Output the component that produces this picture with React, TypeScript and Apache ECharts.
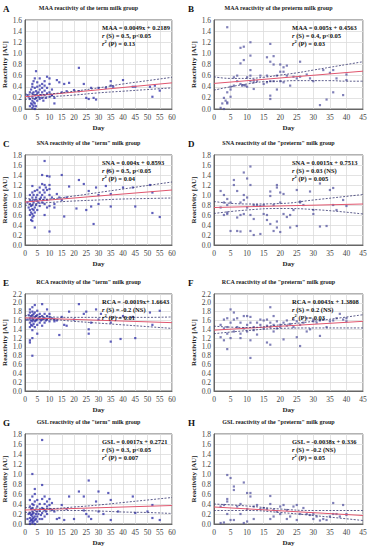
import React, { useEffect, useRef } from "react";
import * as echarts from "echarts";

// ---------- DATA ----------
const panelLetters = ["A", "B", "C", "D", "E", "F", "G", "H"];
const panelTitles = [
  "MAA reactivity of the term milk group",
  "MAA reactivity of the preterm milk group",
  "SNA reactivity of the \"term\" milk group",
  "SNA reactivity of the \"preterm\" milk group",
  "RCA reactivity of the \"term\" milk group",
  "RCA reactivity of the \"preterm\" milk group",
  "GSL reactivity of the \"term\" milk group",
  "GSL reactivity of the \"preterm\" milk group",
];
const equations = [
  "MAA = 0.0049x + 0.2189",
  "MAA = 0.005x + 0.4563",
  "SNA = 0.004x + 0.8593",
  "SNA = 0.0015x + 0.7513",
  "RCA = -0.0019x+ 1.6643",
  "RCA = 0.0043x + 1.3808",
  "GSL = 0.0017x + 0.2721",
  "GSL = -0.0038x + 0.336",
];
const spearman = ["0.5, p<0.05", "0.4, p<0.05", "0.5, p<0.05", "0.03 (NS)", "-0.2 (NS)", "0.2 (NS)", "0.3, p<0.05", "-0.2 (NS)"];
const pearsonR2 = ["0.13", "0.03", "0.04", "0.005", "0.01", "0.03", "0.007", "0.05"];
const xMaxTerm = 60;
const xMaxPreterm = 45;
const yMaxes = [1.6, 1.6, 1.8, 1.8, 2.2, 2.2, 1.8, 1.8];

const pointsA = [
  [1,0.25],[1.5,0.22],[2,0.3],[2,0.18],[2,0.05],[2.5,0.1],[2.5,0.35],[3,0.02],[3,0.08],[3,0.15],[3,0.22],[3,0.28],[3,0.4],[3,0.45],
  [3.5,0.05],[3.5,0.12],[3.5,0.3],[3.5,0.5],[4,0.0],[4,0.1],[4,0.18],[4,0.25],[4,0.38],[4,0.55],[4.5,0.05],[4.5,0.2],[4.5,0.32],
  [5,0.15],[5,0.28],[5,0.4],[5,0.48],[5.5,0.3],[5.5,0.22],[6,0.18],[6,0.35],[6,0.42],[6,0.55],[6.5,0.25],[7,0.2],[7,0.3],[7,0.38],
  [7,0.45],[7.5,0.15],[8,0.25],[8,0.33],[8,0.42],[8,0.5],[8.5,0.2],[9,0.28],[9,0.38],[9,0.58],[10,0.22],[10,0.3],[10,0.45],[10,0.55],
  [11,0.25],[11,0.35],[4.5,0.68],[22,0.74],[35,0.5],[40,0.52],[13,0.52],[14,0.48],[16,0.45],[18,0.47],[22,0.32],[24,0.45],[25,0.2],
  [26,0.18],[27,0.38],[28,0.2],[29,0.17],[30,0.38],[33,0.38],[35,0.42],[36,0.4],[44,0.4],[45,0.4],[51,0.4],[52,0.22],[53,0.42],
  [55,0.33],[12,0.2],[15,0.3],[17,0.32],[11,0.25],[20,0.34],[12,0.1]
];
const pointsB = [
  [2,0.02],[2.5,0.1],[3,0.0],[3,0.2],[3.5,0.15],[4,0.1],[4,0.12],[4,1.47],[4,0.3],[5,0.22],[5,0.35],[5,0.4],[6,0.42],[6,0.57],[7,0.6],
  [7,0.5],[8,0.82],[8,1.1],[8,0.45],[8.5,0.42],[9,1.12],[9,0.88],[9,0.43],[9.5,0.42],[10,0.57],[10,0.4],[11,1.2],[11,0.96],[11,0.7],
  [11,0.6],[11,0.5],[12,0.52],[12,0.48],[12,0.36],[13,0.5],[14,0.6],[15,0.45],[16,0.93],[16,0.48],[16,0.6],[17,1.17],[17,0.85],[17,0.24],
  [17,0.18],[17,0.5],[18,0.95],[18,0.8],[18,0.5],[19,0.35],[19,0.6],[20,0.8],[20,0.67],[20,0.5],[21,0.75],[21,0.67],[21,0.48],[22,0.78],
  [22,0.6],[23,0.42],[24,0.58],[25,0.55],[26,0.85],[26,0.58],[28,0.62],[29,0.55],[30,0.5],[32,0.07],[33,0.7],[34,0.17],[35,0.65],
  [36,0.7],[36,0.3],[37,0.55],[39,0.25],[40,0.52],[40,0.62]
];
const pointsC = [
  [1,0.85],[1.5,0.75],[2,0.6],[2,0.7],[2,0.82],[2,0.9],[2,1.0],[2.5,0.5],[2.5,0.65],[2.5,0.78],[3,0.48],[3,0.55],[3,0.62],[3,0.72],
  [3,0.8],[3,0.88],[3,0.95],[3,1.05],[3,1.18],[3.5,0.58],[3.5,0.7],[3.5,0.85],[3.5,1.0],[4,0.65],[4,0.75],[4,0.9],[4,1.08],[4.5,0.8],
  [4.5,0.95],[5,0.7],[5,0.88],[5,1.0],[5,1.1],[5.5,0.85],[6,0.78],[6,0.92],[6,1.05],[6,1.15],[6.5,0.95],[7,0.85],[7,1.0],[7,1.22],
  [7.5,1.1],[7.5,0.9],[8,0.6],[8,0.82],[8,0.95],[8,1.05],[8,1.2],[8.5,1.15],[9,0.75],[9,0.9],[9,1.1],[10,0.78],[10,1.0],[10,1.12],
  [10,1.2],[11,0.95],[8,1.68],[10,0.27],[4,0.35],[7,1.4],[9,1.38],[10,1.37],[15,1.4],[13,1.02],[14,0.95],[16,0.57],[18,1.17],[21,0.73],
  [22,1.3],[24,1.22],[25,0.7],[26,1.08],[27,0.77],[28,0.42],[29,1.15],[30,0.82],[30,1.0],[34,1.48],[35,1.02],[35,0.77],[33,1.18],
  [40,1.15],[44,1.15],[45,0.77],[51,1.2],[52,1.05],[52,0.64],[55,0.56],[12,0.82],[12,0.75],[15,0.9],[17,0.95]
];
const pointsD = [
  [2,1.08],[2,0.75],[3,1.0],[3,0.85],[3,0.6],[4,0.62],[4,0.65],[4,0.92],[4,0.8],[5,0.28],[5,0.85],[6,1.3],[6,1.2],[7,1.08],[7,0.55],
  [7,0.28],[8,0.6],[8,0.27],[8,0.85],[9,0.9],[9,1.45],[9,1.0],[9,0.62],[10,1.33],[10,0.95],[10,0.75],[11,1.57],[11,1.2],[11,0.28],
  [11,0.6],[12,0.52],[12,0.2],[12,0.8],[13,0.8],[14,0.78],[14,0.22],[15,0.62],[15,0.8],[16,0.5],[16,0.6],[17,1.07],[17,0.98],[17,0.42],
  [18,0.28],[18,0.8],[19,1.2],[19,1.15],[19,0.47],[19,0.35],[20,1.05],[20,0.85],[20,0.26],[21,1.02],[21,0.62],[22,0.56],[23,0.6],
  [23,0.35],[24,0.7],[25,1.1],[25,0.38],[26,0.87],[26,0.85],[27,0.8],[29,1.07],[30,0.7],[30,0.62],[32,1.23],[32,0.37],[34,0.38],
  [35,1.1],[36,1.14],[36,0.8],[37,0.7],[39,0.9],[40,0.78]
];
const pointsE = [
  [1,1.62],[1.5,1.72],[2,1.45],[2,1.55],[2,1.65],[2,1.78],[2,1.85],[2.5,1.5],[2.5,1.6],[2.5,1.7],[3,1.38],[3,1.48],[3,1.58],[3,1.65],
  [3,1.72],[3,1.8],[3,1.9],[3.5,1.52],[3.5,1.62],[3.5,1.75],[4,1.45],[4,1.58],[4,1.68],[4,1.78],[4,1.95],[4.5,1.6],[4.5,1.7],[5,1.5],
  [5,1.62],[5,1.72],[5,1.82],[5.5,1.65],[6,1.55],[6,1.68],[6,1.75],[6.5,1.6],[7,1.48],[7,1.62],[7,1.7],[7,1.97],[7.5,1.65],[8,1.55],
  [8,1.65],[8,1.75],[8.5,1.6],[9,1.62],[9,1.7],[9,1.85],[10,1.58],[10,1.68],[10,1.75],[11,1.65],[12,1.62],[13,1.6],[3,0.8],[2,1.15],
  [2,1.1],[3,1.2],[5,1.3],[14,1.27],[16,1.5],[18,1.8],[22,1.97],[24,1.75],[25,1.8],[26,1.3],[26,1.4],[27,1.55],[29,1.85],[30,1.62],
  [31,1.75],[35,1.12],[35,1.55],[39,1.18],[45,1.2],[51,1.78],[52,1.5],[55,1.82],[44,1.68],[40,1.7],[20,1.62],[12,1.58],[15,1.68],[17,1.48]
];
const pointsF = [
  [2,1.5],[2,1.22],[3,1.42],[3,1.15],[3,1.62],[4,1.3],[4,1.45],[4,1.65],[4,0.95],[5,1.2],[5,1.55],[5,1.85],[6,1.35],[6,1.62],[6,1.78],
  [7,1.45],[7,1.65],[8,1.3],[8,1.2],[8,1.55],[9,1.42],[9,1.7],[10,1.5],[10,1.35],[10,1.7],[11,1.15],[11,0.75],[11,1.55],[11,1.68],
  [12,1.45],[12,1.38],[13,1.55],[13,1.28],[14,1.5],[14,1.62],[15,1.42],[15,1.6],[16,1.1],[16,1.48],[16,1.62],[17,1.05],[17,1.9],
  [17,1.45],[17,1.55],[18,1.35],[18,1.7],[18,1.5],[19,1.42],[19,1.58],[20,1.5],[20,1.45],[21,1.17],[21,1.55],[22,1.48],[22,1.6],
  [23,1.52],[24,1.45],[24,1.62],[25,1.22],[25,1.58],[26,1.02],[26,1.5],[27,1.55],[28,1.35],[28,1.65],[29,1.4],[30,1.58],[30,1.62],
  [31,1.55],[32,1.25],[32,1.6],[33,1.62],[34,1.45],[35,1.58],[36,1.6],[37,1.65],[38,1.75],[39,1.62],[40,1.58],[40,1.65]
];
const pointsG = [
  [1,0.1],[1.5,0.2],[2,0.0],[2,0.05],[2,0.12],[2,0.22],[2,0.35],[2,0.48],[2.5,0.08],[2.5,0.18],[2.5,0.3],[3,0.02],[3,0.06],[3,0.1],
  [3,0.15],[3,0.2],[3,0.25],[3,0.32],[3,0.4],[3,0.55],[3.5,0.05],[3.5,0.12],[3.5,0.22],[3.5,0.38],[4,0.0],[4,0.08],[4,0.15],[4,0.28],
  [4,0.45],[4,0.6],[4,0.7],[4.5,0.1],[4.5,0.2],[5,0.05],[5,0.15],[5,0.25],[5,0.35],[5,0.48],[5.5,0.2],[6,0.1],[6,0.28],[6,0.4],
  [6.5,0.18],[7,0.1],[7,0.22],[7,0.32],[7,0.5],[7.5,0.3],[8,0.15],[8,0.28],[8,0.4],[8,0.55],[8.5,0.25],[9,0.2],[9,0.35],[9,0.45],
  [10,0.3],[10,0.38],[10,0.5],[11,0.28],[11,0.42],[7,1.68],[3,1.0],[7,0.78],[26,0.87],[22,0.65],[30,0.65],[34,0.62],[44,0.55],
  [18,0.55],[24,0.55],[15,0.38],[35,0.48],[13,0.1],[14,0.12],[16,0.08],[20,0.1],[24,0.27],[25,0.2],[26,0.15],[27,0.1],[29,0.45],
  [30,0.25],[32,0.2],[35,0.08],[38,0.25],[45,0.22],[50,0.25],[52,0.38],[52,0.12],[55,0.08],[12,0.25],[17,0.3]
];
const pointsH = [
  [4,0.98],[5,0.92],[6,0.75],[6,0.68],[9,0.83],[10,0.62],[11,0.62],[11,0.55],[17,0.56],[36,0.42],[39,0.38],[2,0.02],[3,0.03],[4,0.45],
  [4,0.5],[4,0.2],[5,0.08],[6,0.08],[7,0.35],[8,0.4],[8,0.2],[9,0.02],[10,0.05],[10,0.3],[12,0.35],[12,0.1],[13,0.38],[14,0.3],
  [15,0.32],[16,0.3],[17,0.1],[17,0.4],[18,0.28],[18,0.15],[19,0.25],[20,0.35],[20,0.2],[21,0.38],[22,0.1],[22,0.28],[23,0.15],
  [24,0.35],[25,0.38],[25,0.08],[26,0.2],[27,0.32],[28,0.2],[29,0.18],[30,0.2],[30,0.1],[31,0.15],[32,0.07],[33,0.1],[34,0.08],
  [35,0.15],[36,0.2],[37,0.2],[38,0.15],[40,0.18],[40,0.2],[2,0.35],[3,0.38]
];

const regA = [[0,0.22],[60,0.47]];
const regB = [[0,0.46],[45,0.68]];
const regC = [[0,0.86],[60,1.1]];
const regD = [[0,0.75],[45,0.82]];
const regE = [[0,1.66],[60,1.55]];
const regF = [[0,1.38],[45,1.58]];
const regG = [[0,0.28],[60,0.37]];
const regH = [[0,0.34],[45,0.17]];

const upA = [[0,0.27],[5,0.26],[10,0.27],[20,0.32],[30,0.38],[40,0.45],[50,0.51],[60,0.57]];
const loA = [[0,0.17],[5,0.2],[10,0.22],[20,0.25],[30,0.29],[40,0.32],[50,0.35],[60,0.38]];
const upB = [[0,0.58],[5,0.55],[10,0.55],[15,0.57],[20,0.61],[25,0.65],[30,0.7],[35,0.75],[40,0.8],[45,0.85]];
const loB = [[0,0.34],[5,0.4],[10,0.45],[15,0.49],[20,0.5],[25,0.51],[30,0.51],[35,0.51],[40,0.5],[45,0.5]];
const upC = [[0,0.94],[5,0.91],[10,0.92],[20,0.98],[30,1.05],[40,1.12],[50,1.19],[60,1.26]];
const loC = [[0,0.79],[5,0.83],[10,0.85],[20,0.88],[30,0.9],[40,0.92],[50,0.93],[60,0.94]];
const upD = [[0,0.87],[10,0.82],[20,0.83],[30,0.9],[45,1.01]];
const loD = [[0,0.63],[10,0.7],[20,0.73],[30,0.71],[45,0.62]];
const upE = [[0,1.71],[10,1.68],[20,1.67],[30,1.67],[40,1.67],[50,1.67],[60,1.68]];
const loE = [[0,1.61],[10,1.62],[20,1.58],[30,1.54],[40,1.5],[50,1.46],[60,1.42]];
const upF = [[0,1.47],[10,1.44],[20,1.5],[30,1.58],[45,1.73]];
const loF = [[0,1.3],[10,1.37],[20,1.42],[30,1.43],[45,1.43]];
const upG = [[0,0.33],[10,0.31],[20,0.34],[30,0.38],[40,0.43],[50,0.48],[60,0.53]];
const loG = [[0,0.23],[10,0.26],[20,0.27],[30,0.26],[40,0.24],[50,0.23],[60,0.21]];
const upH = [[0,0.4],[10,0.36],[20,0.3],[30,0.27],[45,0.27]];
const loH = [[0,0.27],[10,0.27],[20,0.23],[30,0.17],[45,0.07]];

const allPoints = [pointsA, pointsB, pointsC, pointsD, pointsE, pointsF, pointsG, pointsH];
const allReg = [regA, regB, regC, regD, regE, regF, regG, regH];
const allUp = [upA, upB, upC, upD, upE, upF, upG, upH];
const allLo = [loA, loB, loC, loD, loE, loF, loG, loH];

// ---------- LAYOUT ----------
const colLeft = [25, 214];
const colWidth = [147, 149];
const rowTop = [20, 155, 294, 434];
const rowHeight = [89, 90, 97, 90];
const FONT = "'Liberation Serif', 'DejaVu Serif', serif";

export default function App() {
  const ref = useRef<HTMLDivElement>(null);
  useEffect(() => {
    if (!ref.current) return;
    const chart = echarts.init(ref.current, null, { renderer: "svg" });
    const grids: any[] = [];
    const xAxes: any[] = [];
    const yAxes: any[] = [];
    const series: any[] = [];
    const graphics: any[] = [];
    for (let i = 0; i < 8; i++) {
      const c = i % 2;
      const r = Math.floor(i / 2);
      const left = colLeft[c];
      const top = rowTop[r];
      const w = colWidth[c];
      const h = rowHeight[r];
      grids.push({
        left, top, width: w, height: h,
        show: true, borderColor: "#666", borderWidth: 1, backgroundColor: "#fff",
      });
      xAxes.push({
        gridIndex: i, type: "value", min: 0, max: c === 0 ? xMaxTerm : xMaxPreterm, interval: 5,
        axisLine: { show: true, lineStyle: { color: "#666", width: 1 } },
        axisTick: { show: false },
        axisLabel: { fontFamily: FONT, fontSize: 7.5, color: "#444", margin: 4 },
        splitLine: { show: true, lineStyle: { color: "#dcdcdc", width: 0.8 } },
        name: "Day", nameLocation: "middle", nameGap: 15,
        nameTextStyle: { fontFamily: FONT, fontSize: 7, fontWeight: "bold", color: "#222" },
      });
      yAxes.push({
        gridIndex: i, type: "value", min: 0, max: yMaxes[i], interval: 0.2,
        axisLine: { show: true, lineStyle: { color: "#666", width: 1 } },
        axisTick: { show: false },
        axisLabel: { fontFamily: FONT, fontSize: 7.5, color: "#444", margin: 3, formatter: (v: number) => v.toFixed(1) },
        splitLine: { show: true, lineStyle: { color: "#dcdcdc", width: 0.8 } },
        name: "Reactivity [AU]", nameLocation: "middle", nameGap: 15,
        nameTextStyle: { fontFamily: FONT, fontSize: 7, fontWeight: "bold", color: "#222" },
      });
      series.push({
        type: "scatter", xAxisIndex: i, yAxisIndex: i, data: allPoints[i],
        symbol: "rect", symbolSize: 2.2,
        itemStyle: { color: c === 0 ? "#2a2aa6" : "#4a4a9a", opacity: c === 0 ? 0.75 : 0.7 },
        silent: true, z: 3,
      });
      series.push({
        type: "line", xAxisIndex: i, yAxisIndex: i, data: allReg[i], symbol: "none",
        lineStyle: { color: "#e0566e", width: 1 }, silent: true, z: 4,
      });
      series.push({
        type: "line", xAxisIndex: i, yAxisIndex: i, data: allUp[i], symbol: "none", smooth: true,
        lineStyle: { color: "#33336e", width: 0.8, type: [2, 1.5] }, silent: true, z: 4,
      });
      series.push({
        type: "line", xAxisIndex: i, yAxisIndex: i, data: allLo[i], symbol: "none", smooth: true,
        lineStyle: { color: "#33336e", width: 0.8, type: [2, 1.5] }, silent: true, z: 4,
      });
      graphics.push({
        type: "text", left: c === 0 ? 3 : 188, top: top - 16,
        style: { text: panelLetters[i], fontFamily: FONT, fontSize: 9, fontWeight: "bold", fill: "#111" },
      });
      graphics.push({
        type: "text", x: left + w / 2 - 10, y: top - 12,
        style: {
          text: panelTitles[i], fontFamily: FONT, fontSize: 6, fontWeight: "bold", fill: "#222",
          textAlign: "center", textVerticalAlign: "middle",
        },
      });
      const statX = c === 0 ? left + 77 : left + 78;
      graphics.push({
        type: "text", x: statX, y: top + 3, z: 10,
        style: {
          text:
            "{b|" + equations[i] + "}\n" +
            "{i|r}{b| (S) = " + spearman[i] + "}\n" +
            "{i|r}{s|2}{b| (P) = " + pearsonR2[i] + "}",
          fontFamily: FONT, fontSize: 6.5, fill: "#111", lineHeight: 8,
          rich: {
            b: { fontFamily: FONT, fontSize: 6.5, fontWeight: "bold", fill: "#111", lineHeight: 8 },
            i: { fontFamily: FONT, fontSize: 6.5, fontWeight: "bold", fontStyle: "italic", fill: "#111", lineHeight: 8 },
            s: { fontFamily: FONT, fontSize: 4.5, fontWeight: "bold", fill: "#111", verticalAlign: "top", lineHeight: 8 },
          },
        },
      });
    }
    chart.setOption({
      animation: false,
      backgroundColor: "#fff",
      grid: grids,
      xAxis: xAxes,
      yAxis: yAxes,
      series,
      graphic: graphics,
    });
    return () => chart.dispose();
  }, []);
  return (
    <div
      ref={ref}
      style={{ position: "absolute", left: 0, top: 0, width: 372, height: 550, background: "#fff" }}
    />
  );
}
